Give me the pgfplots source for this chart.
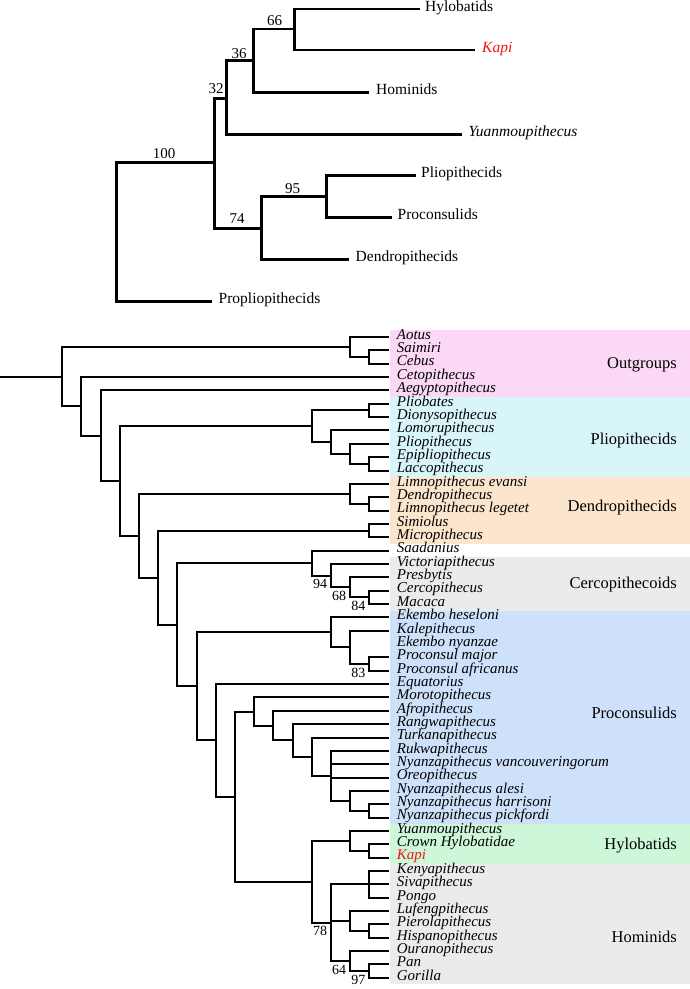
\documentclass[border=0pt]{standalone}
\usepackage{fontspec}
\setmainfont{Liberation Serif}
\usepackage{pgfplots}
\pgfplotsset{compat=1.18}
\definecolor{cOut}{RGB}{250,216,246}
\definecolor{cPlio}{RGB}{216,246,250}
\definecolor{cDendro}{RGB}{252,229,205}
\definecolor{cCerc}{RGB}{234,235,235}
\definecolor{cProc}{RGB}{206,225,250}
\definecolor{cHylo}{RGB}{206,247,218}
\definecolor{cHom}{RGB}{234,235,235}
\definecolor{kapired}{RGB}{240,20,20}
\pgfplotsset{treeaxis/.style={scale only axis, width=690pt, height=989pt, hide axis, clip=false,
  enlargelimits=false, at={(0pt,0pt)}, anchor=south west, y dir=reverse, unbounded coords=jump}}
\tikzset{
  toptax/.style={anchor=mid west, inner sep=0pt, font=\fontsize{15.5}{15.5}\selectfont},
  topbs/.style={anchor=center, inner sep=0pt, font=\fontsize{15}{15}\selectfont},
  tax/.style={anchor=mid west, inner sep=0pt, font=\fontsize{15}{15}\selectfont\itshape},
  grp/.style={anchor=mid east, inner sep=0pt, font=\fontsize{16.5}{16.5}\selectfont},
  bs/.style={anchor=north west, inner sep=0pt, xshift=1pt, yshift=-3.5pt, font=\fontsize{14}{14}\selectfont},
}
\begin{document}
\begin{tikzpicture}
\useasboundingbox (0,0) rectangle (690pt,989pt);
% ---------------- top tree (pixel coordinates) ----------------
\begin{axis}[treeaxis, xmin=0, xmax=690, ymin=0, ymax=989]
\addplot[black, line width=2.8pt, line join=miter, mark=none] table {
x y
116.4 232.2
116.4 162.7
214.2 162.7
nan nan
116.4 232.2
116.4 301.7
212.4 301.7
nan nan
214.2 163.3
214.2 98.3
226.7 98.3
nan nan
214.2 163.3
214.2 228.3
261.3 228.3
nan nan
226.7 97.5
226.7 60.7
253.3 60.7
nan nan
226.7 97.5
226.7 134.3
462.2 134.3
nan nan
253.3 60.7
253.3 29
294.7 29
nan nan
253.3 60.7
253.3 92.3
368.9 92.3
nan nan
294.7 29
294.7 9
420 9
nan nan
294.7 29
294.7 50
474.7 50
nan nan
261.3 228.3
261.3 196.7
326.7 196.7
nan nan
261.3 228.3
261.3 259.3
348.9 259.3
nan nan
326.7 196.7
326.7 175.7
415.6 175.7
nan nan
326.7 196.7
326.7 217.7
392 217.7
};
\node[toptax] at (axis cs:425,9) {Hylobatids};
\node[toptax, text=kapired] at (axis cs:482,50) {\itshape Kapi};
\node[toptax] at (axis cs:376,92.3) {Hominids};
\node[toptax] at (axis cs:468.5,134.3) {\itshape Yuanmoupithecus};
\node[toptax] at (axis cs:421,175.7) {Pliopithecids};
\node[toptax] at (axis cs:397.5,217.7) {Proconsulids};
\node[toptax] at (axis cs:355.5,259.3) {Dendropithecids};
\node[toptax] at (axis cs:218.5,301.7) {Propliopithecids};
\node[topbs] at (axis cs:164,154) {100};
\node[topbs] at (axis cs:216,88.3) {32};
\node[topbs] at (axis cs:239,53.3) {36};
\node[topbs] at (axis cs:274.7,20.7) {66};
\node[topbs] at (axis cs:237,219) {74};
\node[topbs] at (axis cs:292.5,188.3) {95};
\end{axis}
% ---------------- bottom tree (depth x taxon index) ----------------
\begin{axis}[treeaxis, xmin=-2.2396, xmax=33.6979, ymin=-24.2434, ymax=49.8390]
\addplot[fill=cOut, draw=none] coordinates {(18.05,0.5) (33.6979,0.5) (33.6979,5.5) (18.05,5.5)} -- cycle;
\addplot[fill=cPlio, draw=none] coordinates {(18.05,5.5) (33.6979,5.5) (33.6979,11.5) (18.05,11.5)} -- cycle;
\addplot[fill=cDendro, draw=none] coordinates {(18.05,11.5) (33.6979,11.5) (33.6979,16.5) (18.05,16.5)} -- cycle;
\addplot[fill=cCerc, draw=none] coordinates {(18.05,17.5) (33.6979,17.5) (33.6979,21.5) (18.05,21.5)} -- cycle;
\addplot[fill=cProc, draw=none] coordinates {(18.05,21.5) (33.6979,21.5) (33.6979,37.5) (18.05,37.5)} -- cycle;
\addplot[fill=cHylo, draw=none] coordinates {(18.05,37.5) (33.6979,37.5) (33.6979,40.5) (18.05,40.5)} -- cycle;
\addplot[fill=cHom, draw=none] coordinates {(18.05,40.5) (33.6979,40.5) (33.6979,49.5) (18.05,49.5)} -- cycle;
\addplot[black, line width=2pt, line join=miter, mark=none] table {
x y
-2.2396 3.9735
1 3.9735
nan nan
1 3.9735
1 1.75
16 1.75
nan nan
1 3.9735
1 6.197
2 6.197
nan nan
16 1.75
16 1
18 1
nan nan
16 1.75
16 2.5
17 2.5
nan nan
17 2.5
17 2
18 2
nan nan
17 2.5
17 3
18 3
nan nan
2 6.197
2 4
18 4
nan nan
2 6.197
2 8.394
3 8.394
nan nan
3 8.394
3 5
18 5
nan nan
3 8.394
3 11.788
4 11.788
nan nan
4 11.788
4 7.6875
14 7.6875
nan nan
4 11.788
4 15.8886
5 15.8886
nan nan
14 7.6875
14 6.5
17 6.5
nan nan
14 7.6875
14 8.875
15 8.875
nan nan
17 6.5
17 6
18 6
nan nan
17 6.5
17 7
18 7
nan nan
15 8.875
15 8
18 8
nan nan
15 8.875
15 9.75
16 9.75
nan nan
16 9.75
16 9
18 9
nan nan
16 9.75
16 10.5
17 10.5
nan nan
17 10.5
17 10
18 10
nan nan
17 10.5
17 11
18 11
nan nan
5 15.8886
5 12.75
16 12.75
nan nan
5 15.8886
5 19.0271
6 19.0271
nan nan
16 12.75
16 12
18 12
nan nan
16 12.75
16 13.5
17 13.5
nan nan
17 13.5
17 13
18 13
nan nan
17 13.5
17 14
18 14
nan nan
6 19.0271
6 15.5
17 15.5
nan nan
6 19.0271
6 22.5542
7 22.5542
nan nan
17 15.5
17 15
18 15
nan nan
17 15.5
17 16
18 16
nan nan
7 22.5542
7 17.9375
14 17.9375
nan nan
7 22.5542
7 27.1709
8 27.1709
nan nan
14 17.9375
14 17
18 17
nan nan
14 17.9375
14 18.875
15 18.875
nan nan
15 18.875
15 18
18 18
nan nan
15 18.875
15 19.75
16 19.75
nan nan
16 19.75
16 19
18 19
nan nan
16 19.75
16 20.5
17 20.5
nan nan
17 20.5
17 20
18 20
nan nan
17 20.5
17 21
18 21
nan nan
8 27.1709
8 23.125
15 23.125
nan nan
8 27.1709
8 31.2168
9 31.2168
nan nan
15 23.125
15 22
18 22
nan nan
15 23.125
15 24.25
16 24.25
nan nan
16 24.25
16 23
18 23
nan nan
16 24.25
16 25.5
17 25.5
nan nan
17 25.5
17 25
18 25
nan nan
17 25.5
17 26
18 26
nan nan
9 31.2168
9 27
18 27
nan nan
9 31.2168
9 35.4336
10 35.4336
nan nan
10 35.4336
10 29.0547
11 29.0547
nan nan
10 35.4336
10 41.8125
14 41.8125
nan nan
11 29.0547
11 28
18 28
nan nan
11 29.0547
11 30.1094
12 30.1094
nan nan
12 30.1094
12 29
18 29
nan nan
12 30.1094
12 31.2188
13 31.2188
nan nan
13 31.2188
13 30
18 30
nan nan
13 31.2188
13 32.4375
14 32.4375
nan nan
14 32.4375
14 31
18 31
nan nan
14 32.4375
14 33.875
15 33.875
nan nan
15 33.875
15 32
18 32
nan nan
15 33
18 33
nan nan
15 34
18 34
nan nan
15 33.875
15 35.75
16 35.75
nan nan
16 35.75
16 35
18 35
nan nan
16 35.75
16 36.5
17 36.5
nan nan
17 36.5
17 36
18 36
nan nan
17 36.5
17 37
18 37
nan nan
14 41.8125
14 38.75
16 38.75
nan nan
14 41.8125
14 44.875
15 44.875
nan nan
16 38.75
16 38
18 38
nan nan
16 38.75
16 39.5
17 39.5
nan nan
17 39.5
17 39
18 39
nan nan
17 39.5
17 40
18 40
nan nan
15 44.875
15 42
17 42
nan nan
15 44.75
16 44.75
nan nan
15 44.875
15 47.75
16 47.75
nan nan
17 42
17 41
18 41
nan nan
17 42
18 42
nan nan
17 42
17 43
18 43
nan nan
16 44.75
16 44
18 44
nan nan
16 44.75
16 45.5
17 45.5
nan nan
17 45.5
17 45
18 45
nan nan
17 45.5
17 46
18 46
nan nan
16 47.75
16 47
18 47
nan nan
16 47.75
16 48.5
17 48.5
nan nan
17 48.5
17 48
18 48
nan nan
17 48.5
17 49
18 49
};
% bootstrap values
\node[bs] at (axis cs:14,18.875) {94};
\node[bs] at (axis cs:15,19.75) {68};
\node[bs] at (axis cs:16,20.5) {84};
\node[bs] at (axis cs:16,25.5) {83};
\node[bs] at (axis cs:14,44.875) {78};
\node[bs] at (axis cs:15,47.75) {64};
\node[bs] at (axis cs:16,48.5) {97};
% taxa
\node[tax] at (axis cs:18.42,1) {Aotus};
\node[tax] at (axis cs:18.42,2) {Saimiri};
\node[tax] at (axis cs:18.42,3) {Cebus};
\node[tax] at (axis cs:18.42,4) {Cetopithecus};
\node[tax] at (axis cs:18.42,5) {Aegyptopithecus};
\node[tax] at (axis cs:18.42,6) {Pliobates};
\node[tax] at (axis cs:18.42,7) {Dionysopithecus};
\node[tax] at (axis cs:18.42,8) {Lomorupithecus};
\node[tax] at (axis cs:18.42,9) {Pliopithecus};
\node[tax] at (axis cs:18.42,10) {Epipliopithecus};
\node[tax] at (axis cs:18.42,11) {Laccopithecus};
\node[tax] at (axis cs:18.42,12) {Limnopithecus evansi};
\node[tax] at (axis cs:18.42,13) {Dendropithecus};
\node[tax] at (axis cs:18.42,14) {Limnopithecus legetet};
\node[tax] at (axis cs:18.42,15) {Simiolus};
\node[tax] at (axis cs:18.42,16) {Micropithecus};
\node[tax] at (axis cs:18.42,17) {Saadanius};
\node[tax] at (axis cs:18.42,18) {Victoriapithecus};
\node[tax] at (axis cs:18.42,19) {Presbytis};
\node[tax] at (axis cs:18.42,20) {Cercopithecus};
\node[tax] at (axis cs:18.42,21) {Macaca};
\node[tax] at (axis cs:18.42,22) {Ekembo heseloni};
\node[tax] at (axis cs:18.42,23) {Kalepithecus};
\node[tax] at (axis cs:18.42,24) {Ekembo nyanzae};
\node[tax] at (axis cs:18.42,25) {Proconsul major};
\node[tax] at (axis cs:18.42,26) {Proconsul africanus};
\node[tax] at (axis cs:18.42,27) {Equatorius};
\node[tax] at (axis cs:18.42,28) {Morotopithecus};
\node[tax] at (axis cs:18.42,29) {Afropithecus};
\node[tax] at (axis cs:18.42,30) {Rangwapithecus};
\node[tax] at (axis cs:18.42,31) {Turkanapithecus};
\node[tax] at (axis cs:18.42,32) {Rukwapithecus};
\node[tax] at (axis cs:18.42,33) {Nyanzapithecus vancouveringorum};
\node[tax] at (axis cs:18.42,34) {Oreopithecus};
\node[tax] at (axis cs:18.42,35) {Nyanzapithecus alesi};
\node[tax] at (axis cs:18.42,36) {Nyanzapithecus harrisoni};
\node[tax] at (axis cs:18.42,37) {Nyanzapithecus pickfordi};
\node[tax] at (axis cs:18.42,38) {Yuanmoupithecus};
\node[tax] at (axis cs:18.42,39) {Crown Hylobatidae};
\node[tax, text=kapired] at (axis cs:18.42,40) {Kapi};
\node[tax] at (axis cs:18.42,41) {Kenyapithecus};
\node[tax] at (axis cs:18.42,42) {Sivapithecus};
\node[tax] at (axis cs:18.42,43) {Pongo};
\node[tax] at (axis cs:18.42,44) {Lufengpithecus};
\node[tax] at (axis cs:18.42,45) {Pierolapithecus};
\node[tax] at (axis cs:18.42,46) {Hispanopithecus};
\node[tax] at (axis cs:18.42,47) {Ouranopithecus};
\node[tax] at (axis cs:18.42,48) {Pan};
\node[tax] at (axis cs:18.42,49) {Gorilla};
% group names
\node[grp] at (axis cs:33.02,3.2) {Outgroups};
\node[grp] at (axis cs:33.02,8.9) {Pliopithecids};
\node[grp] at (axis cs:33.02,13.9) {Dendropithecids};
\node[grp] at (axis cs:33.02,19.7) {Cercopithecoids};
\node[grp] at (axis cs:33.02,29.4) {Proconsulids};
\node[grp] at (axis cs:33.02,39.2) {Hylobatids};
\node[grp] at (axis cs:33.02,46.2) {Hominids};
\end{axis}
\end{tikzpicture}
\end{document}
